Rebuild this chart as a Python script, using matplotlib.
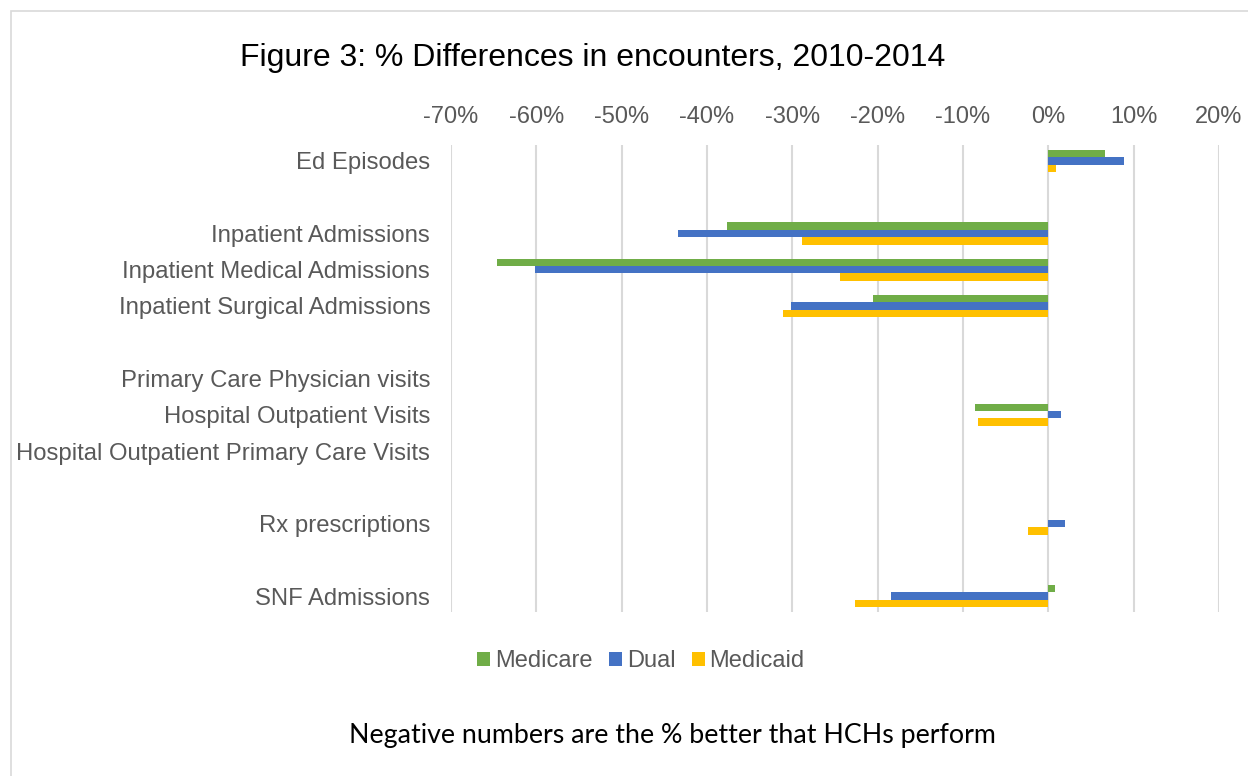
import numpy as np
import matplotlib.pyplot as plt
from matplotlib.patches import Rectangle

# categories (blank strings are the spacer rows of the original sheet)
categories = ["Ed Episodes", "",
              "Inpatient Admissions", "Inpatient Medical Admissions", "Inpatient Surgical Admissions", "",
              "Primary Care Physician visits", "Hospital Outpatient Visits",
              "Hospital Outpatient Primary Care Visits", "",
              "Rx prescriptions", "",
              "SNF Admissions"]

nan = np.nan
medicare = [6.6, nan, -37.6, -64.6, -20.6, nan, nan, -8.6, nan, nan, nan, nan, 0.8]
dual = [8.9, nan, -43.4, -60.2, -30.1, nan, nan, 1.5, nan, nan, 1.9, nan, -18.4]
medicaid = [0.9, nan, -28.9, -24.4, -31.1, nan, nan, -8.3, nan, nan, -2.4, nan, -22.6]

xticks = [-70, -60, -50, -40, -30, -20, -10, 0, 10, 20]

plt.rcParams['font.family'] = ['Liberation Sans', 'DejaVu Sans']
grey = '#595959'

fig = plt.figure(figsize=(12.48, 7.76), dpi=100)
ax = fig.add_axes([451/1248, 164/776, 768/1248, 467/776])

y = np.arange(len(categories))
h = 0.205
ax.barh(y - h, medicare, height=h, color='#70AD47', label='Medicare', zorder=3)
ax.barh(y, dual, height=h, color='#4472C4', label='Dual', zorder=3)
ax.barh(y + h, medicaid, height=h, color='#FFC000', label='Medicaid', zorder=3)

ax.set_xlim(-70, 20)
ax.set_ylim(len(categories) - 0.56, -0.44)
ax.set_xticks(xticks)
ax.set_xticklabels([f"{v}%" for v in xticks])
ax.set_yticks(y)
ax.set_yticklabels(categories)
ax.xaxis.tick_top()
ax.tick_params(axis='x', length=0, pad=12, labelsize=17, labelcolor=grey)
ax.tick_params(axis='y', length=0, pad=15, labelsize=17.2, labelcolor=grey)
ax.grid(axis='x', color='#d9d9d9', linewidth=1.5, zorder=0)
for s in ax.spines.values():
    s.set_visible(False)

fig.text(593/1248, 1 - 58/776, "Figure 3: % Differences in encounters, 2010-2014",
         ha='center', va='center', fontsize=23, color='black')

leg = fig.legend(loc='center', bbox_to_anchor=(641/1248, 1 - 661/776), ncol=3,
                 frameon=False, fontsize=17, handlelength=0.55, handleheight=0.55,
                 handletextpad=0.2, columnspacing=0.7)
for t in leg.get_texts():
    t.set_color(grey)

fig.text(672/1248, 1 - 735/776, "Negative numbers are the % better that HCHs perform",
         ha='center', va='center', fontsize=19.3, color='black', family=['Lato', 'DejaVu Sans'])

# chart border
fig.patches.append(Rectangle((11/1248, -0.05), 1.1, 1 - 11/776 + 0.05, transform=fig.transFigure,
                             fill=False, edgecolor='#d9d9d9', linewidth=1.2))

fig.savefig('out.png', dpi=100)
